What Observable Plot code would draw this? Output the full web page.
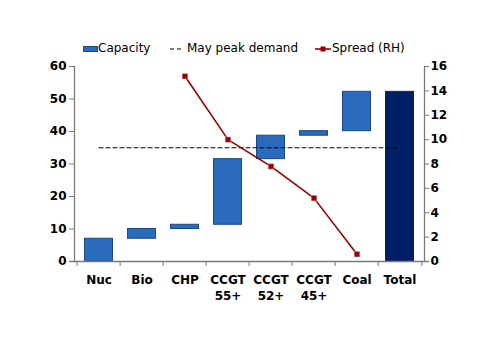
<!DOCTYPE html>
<html>
<head>
<meta charset="utf-8">
<script src="https://cdn.jsdelivr.net/npm/d3@7"></script>
<script src="https://cdn.jsdelivr.net/npm/@observablehq/plot@0.6"></script>
<style>
  html, body { margin: 0; padding: 0; background: #fff; }
  #wrap { position: relative; width: 500px; height: 354px; font-family: "DejaVu Sans", sans-serif; }
  #legend { position: absolute; left: 0; top: 0; width: 500px; height: 60px; font-size: 12px; color: #000; }
  #legend .item { position: absolute; top: 41px; height: 14px; line-height: 14px; white-space: nowrap; }
  #legend svg { position: absolute; top: 0; }
  #chart { position: absolute; left: 0; top: 0; }
</style>
</head>
<body>
<div id="wrap">
  <div id="chart"></div>
  <div id="legend"></div>
</div>
<script>
const categories = ["Nuc", "Bio", "CHP", "CCGT\n55+", "CCGT\n52+", "CCGT\n45+", "Coal", "Total"];
const capacityLow = [0, 7, 10, 11.3, 31.5, 38.7, 40.1, 0];
const capacityHigh = [7, 10, 11.3, 31.5, 38.7, 40.1, 52.2, 52.2];
const peakDemand = [35, 35, 35, 35, 35, 35, 35, 35];
const spreadCategories = ["CHP", "CCGT\n55+", "CCGT\n52+", "CCGT\n45+", "Coal"];
const spread = [15.2, 10.0, 7.8, 5.2, 0.6];
const leftTicks = [0, 10, 20, 30, 40, 50, 60];
const rightTicks = [0, 2, 4, 6, 8, 10, 12, 14, 16];
const legendLabels = ["Capacity", "May peak demand", "Spread (RH)"];

const blue = "#2a6bbd";
const blueStroke = "#1d4a80";
const navy = "#001f66";
const red = "#990000";
const axisGray = "#7a7a7a";
const ratio = 60 / 16;

const bars = categories.map((c, i) => ({
  cat: c, lo: capacityLow[i], hi: capacityHigh[i], total: c === "Total"
}));
const demand = categories.map((c, i) => ({cat: c, v: peakDemand[i]}));
const spreadData = spreadCategories.map((c, i) => ({cat: c, v: spread[i] * ratio}));

const W = 500, H = 354;
const mL = 74, mR = 76;
const bw = (W - mL - mR) / categories.length;

const font = "DejaVu Sans, sans-serif";

const chart = Plot.plot({
  width: W,
  height: H,
  marginTop: 66,
  marginBottom: 93,
  marginLeft: mL,
  marginRight: mR,
  style: {fontFamily: font, fontSize: "12px", color: "#000", background: "transparent"},
  x: {type: "band", domain: categories, padding: 0},
  y: {domain: [0, 60]},
  marks: [
    Plot.barY(bars, {
      x: "cat", y1: "lo", y2: "hi",
      fill: d => d.total ? navy : blue,
      stroke: d => d.total ? "#0f2350" : blueStroke,
      strokeWidth: 1,
      insetLeft: 7.5, insetRight: 7.5
    }),
    Plot.lineY(demand, {x: "cat", y: "v", stroke: "#000", strokeWidth: 1.2, strokeDasharray: "4,3"}),
    Plot.lineY(spreadData, {x: "cat", y: "v", stroke: red, strokeWidth: 1.6}),
    Plot.dot(spreadData, {x: "cat", y: "v", symbol: "square", r: 3.2, fill: red, stroke: "#fff", strokeWidth: 0.4}),
    Plot.frame({anchor: "left", stroke: axisGray, strokeWidth: 1.3}),
    Plot.frame({anchor: "right", stroke: axisGray, strokeWidth: 1.3}),
    Plot.ruleY([0], {stroke: axisGray, strokeWidth: 1.3, insetLeft: -5, insetRight: -5}),
    Plot.axisY(leftTicks, {
      anchor: "left", tickSize: 5, tickPadding: 3, stroke: axisGray,
      fontWeight: "bold", fontSize: 12, label: null
    }),
    Plot.axisY(rightTicks.map(d => d * ratio), {
      anchor: "right", tickSize: 4, tickPadding: 2, stroke: axisGray,
      tickFormat: d => Math.round(d / ratio), fontWeight: "bold", fontSize: 12, label: null
    }),
    Plot.axisX({
      anchor: "bottom", tickSize: 5, tickFormat: null, stroke: axisGray, dx: -bw / 2, label: null
    }),
    Plot.axisX([categories[categories.length - 1]], {
      anchor: "bottom", tickSize: 5, tickFormat: null, stroke: axisGray, dx: bw / 2, label: null
    }),
    Plot.axisX({
      anchor: "bottom", tickSize: 0, tickPadding: 11, fontWeight: "bold", fontSize: 12,
      lineHeight: 1.35, label: null
    })
  ]
});
document.getElementById("chart").appendChild(chart);

// legend
const legend = document.getElementById("legend");
function item(left, swatchW, swatchSvg, text, textLeft) {
  const d = document.createElement("div");
  d.className = "item";
  d.style.left = left + "px";
  d.innerHTML = `<svg width="${swatchW}" height="14" style="left:0">${swatchSvg}</svg>` +
    `<span style="position:absolute;left:${textLeft}px;top:0">${text}</span>`;
  legend.appendChild(d);
}
item(83, 15, `<rect x="0.5" y="5.5" width="14" height="5" fill="${blue}" stroke="${blueStroke}" stroke-width="1"/>`, legendLabels[0], 15);
item(170, 14, `<line x1="0" x2="14" y1="8" y2="8" stroke="#000" stroke-width="1.2" stroke-dasharray="4,3"/>`, legendLabels[1], 17);
item(315, 16, `<line x1="0" x2="16" y1="8" y2="8" stroke="${red}" stroke-width="1.6"/><rect x="5.5" y="5.5" width="5" height="5" fill="${red}"/>`, legendLabels[2], 17);
</script>
</body>
</html>
